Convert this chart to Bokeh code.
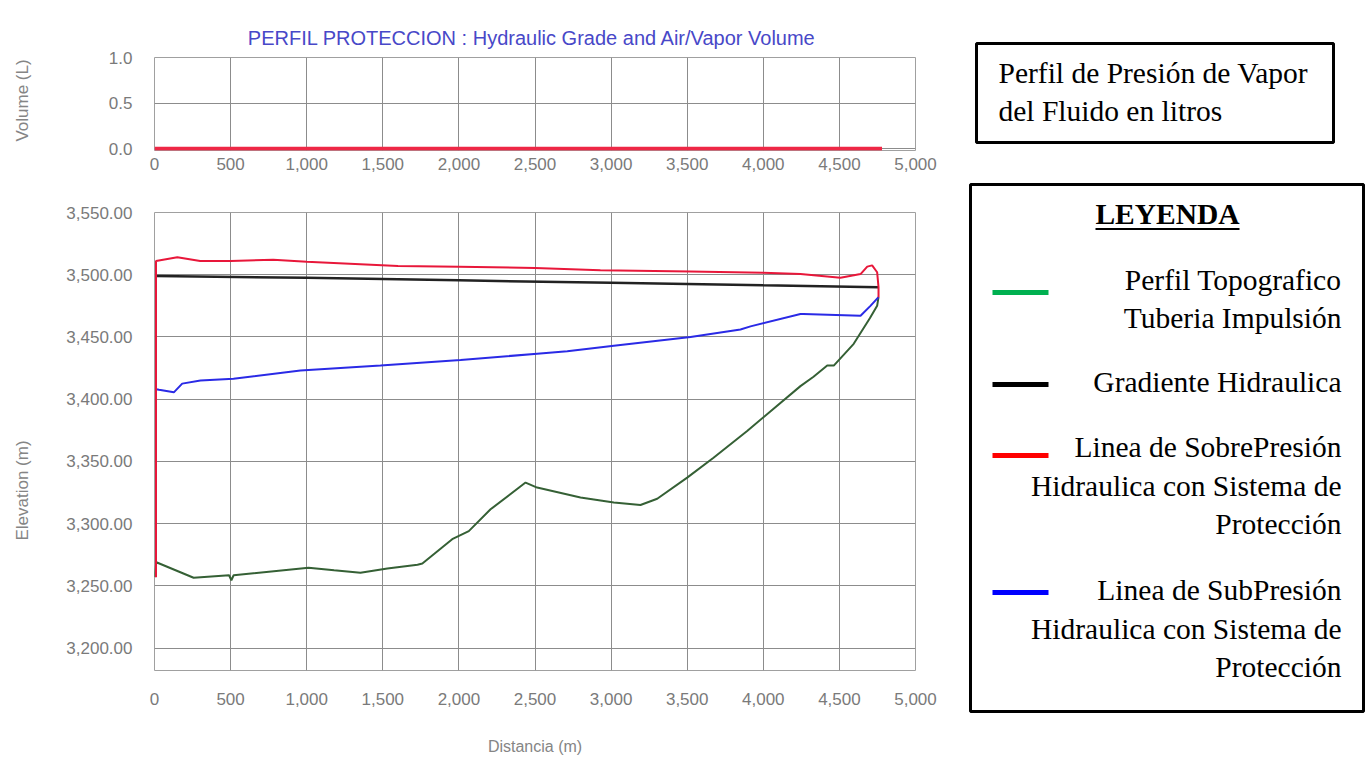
import math
from bokeh.plotting import figure
from bokeh.models import Range1d, SingleIntervalTicker, NumeralTickFormatter
from bokeh.layouts import row, column
from bokeh.embed import file_html
from bokeh.resources import INLINE
from bokeh.core.properties import value

# ---------------- data ----------------
# Air/vapor volume (L) along the line
vol_x = [0, 4780]
vol_y = [0.0, 0.0]

# Perfil topografico (pipe profile)
topo_x = [0, 12, 257, 490, 505, 520, 1012, 1180, 1353, 1530, 1728, 1760, 1956, 2065, 2208,
          2438, 2514, 2799, 3018, 3193, 3303, 3500, 3673, 3894, 4244, 4330, 4420, 4463,
          4594, 4700, 4748, 4757]
topo_y = [3257, 3269, 3256.5, 3258.5, 3254.5, 3258.5, 3264.5, 3262.5, 3260.5, 3264, 3267,
          3268, 3287.5, 3294, 3311.5, 3333, 3329, 3321, 3317, 3315, 3320, 3337, 3353,
          3374.5, 3410.5, 3418, 3427, 3427, 3444.5, 3465, 3475, 3482]

# Gradiente hidraulica
hgl_x = [10, 1000, 2000, 3000, 4000, 4757]
hgl_y = [3499, 3497.5, 3495.5, 3493.5, 3491.5, 3490]

# Envolvente maxima (sobrepresion)
max_x = [10, 10, 150, 300, 500, 780, 1000, 1600, 2000, 2500, 2930, 3520, 4000, 4244, 4507,
         4639, 4683, 4715, 4748, 4757, 4757]
max_y = [3257, 3511, 3514, 3511, 3511, 3512, 3510.5, 3507, 3506.5, 3505.5, 3503.5, 3502.5,
         3501.5, 3500.5, 3497.5, 3500.5, 3506.5, 3507.5, 3502, 3490, 3482]

# Envolvente minima (subpresion)
min_x = [10, 30, 127, 182, 302, 519, 959, 1485, 2011, 2514, 2712, 3018, 3522, 3850, 3916,
         4244, 4264, 4639, 4704, 4757]
min_y = [3408, 3407.5, 3405.5, 3412.5, 3415, 3416.5, 3423, 3427, 3431.5, 3436.5, 3438.5,
         3443, 3450, 3456, 3458.5, 3468.5, 3468.5, 3467, 3475, 3482]

# Texts
title_text = "PERFIL PROTECCION  : Hydraulic Grade and Air/Vapor Volume"
y_axis_titles = ["Volume (L)", "Elevation (m)"]
dist_axis_title = "Distancia (m)"
box1_lines = ["Perfil de Presión de Vapor", "del Fluido en litros"]
legend_title = "LEYENDA"
legend_colors = ["#00b050", "#000000", "#ff0000", "#0000ff"]
legend_lines = [
    ["Perfil Topografico", "Tuberia Impulsión"],
    ["Gradiente Hidraulica"],
    ["Linea de SobrePresión", "Hidraulica con Sistema de", "Protección"],
    ["Linea de SubPresión", "Hidraulica con Sistema de", "Protección"],
]

# ---------------- styling ----------------
SANS = "Liberation Sans"
SERIF = "Liberation Serif"
GRID = "#8c8c8c"
TICK = "#7a7a7a"
AXT = "#858585"
LEFT_W = 40


def style_axes(p):
    for ax in p.axis:
        ax.axis_line_color = None
        ax.major_tick_line_color = None
        ax.minor_tick_line_color = None
        ax.major_tick_out = 0
        ax.major_tick_in = 0
        ax.major_label_text_font = SANS
        ax.major_label_text_font_size = "17px"
        ax.major_label_text_color = TICK
        ax.axis_label_text_font = SANS
        ax.axis_label_text_font_size = "16px"
        ax.axis_label_text_font_style = "normal"
        ax.axis_label_text_color = AXT
    for g in p.grid:
        g.grid_line_color = GRID
        g.grid_line_width = 1
    p.outline_line_color = "#a0a0a0"
    p.background_fill_color = "white"
    p.border_fill_color = "white"


# ---------------- left strip with the vertical axis titles (page pixels) ----------------
lf = figure(width=LEFT_W, height=757, x_range=Range1d(0, LEFT_W), y_range=Range1d(0, 757),
            output_backend="svg", toolbar_location=None, x_axis_type=None, y_axis_type=None,
            min_border_left=0, min_border_right=0, min_border_top=0, min_border_bottom=0)
lf.grid.visible = False
lf.outline_line_color = None
lf.border_fill_color = "white"
lf.background_fill_color = "white"
lf.text(x=[22, 22], y=[757 - 100, 757 - 490], text=y_axis_titles, angle=math.pi / 2,
        text_font=value(SANS), text_font_size="17px", text_align="center",
        text_baseline="middle", text_color=AXT)

# ---------------- top figure (volume) ----------------
top = figure(width=958 - LEFT_W, height=180, x_range=Range1d(0, 5000),
             y_range=Range1d(-0.02, 1.0), output_backend="svg", toolbar_location=None,
             min_border_left=154 - LEFT_W, min_border_right=43, min_border_top=57,
             min_border_bottom=30, title=title_text)
top.title.text_font = SANS
top.title.text_font_size = "20px"
top.title.text_font_style = "normal"
top.title.text_color = "#4848c8"
top.title.align = "center"
top.title.standoff = 18
top.xaxis.ticker = SingleIntervalTicker(interval=500, num_minor_ticks=0)
top.yaxis.ticker = SingleIntervalTicker(interval=0.5, num_minor_ticks=0)
top.xaxis.formatter = NumeralTickFormatter(format="0,0")
top.yaxis.formatter = NumeralTickFormatter(format="0.0")
style_axes(top)
top.xaxis.major_label_standoff = 7
top.yaxis.major_label_standoff = 22
top.line(vol_x, vol_y, line_color="#ee2846", line_width=4)

# ---------------- main figure (elevation) ----------------
main = figure(width=958 - LEFT_W, height=577, x_range=Range1d(0, 5000),
              y_range=Range1d(3182, 3550), output_backend="svg", toolbar_location=None,
              min_border_left=154 - LEFT_W, min_border_right=43, min_border_top=32,
              min_border_bottom=87)
main.xaxis.ticker = SingleIntervalTicker(interval=500, num_minor_ticks=0)
main.yaxis.ticker = SingleIntervalTicker(interval=50, num_minor_ticks=0)
main.xaxis.formatter = NumeralTickFormatter(format="0,0")
main.yaxis.formatter = NumeralTickFormatter(format="0,0.00")
style_axes(main)
main.xaxis.major_label_standoff = 22
main.yaxis.major_label_standoff = 22
main.xaxis.axis_label = dist_axis_title
main.xaxis.axis_label_standoff = 30

main.line(topo_x, topo_y, line_color="#356035", line_width=2)
main.line(hgl_x, hgl_y, line_color="#222222", line_width=2.5)
main.line(min_x, min_y, line_color="#2a2ae6", line_width=2)
main.line(max_x, max_y, line_color="#e8173a", line_width=2)

# ---------------- legend panel (coordinates = page pixels) ----------------
lg = figure(width=412, height=757, x_range=Range1d(958, 1370), y_range=Range1d(757, 0),
            output_backend="svg", toolbar_location=None, x_axis_type=None, y_axis_type=None,
            min_border_left=0, min_border_right=0, min_border_top=0, min_border_bottom=0)
lg.grid.visible = False
lg.outline_line_color = None
lg.background_fill_color = "white"
lg.border_fill_color = "white"

# boxes
lg.quad(left=[976, 970], right=[1333, 1363], top=[43, 184], bottom=[142, 711],
        fill_color=None, line_color="black", line_width=3)

BASE_FIX = -11  # text baseline correction

# box 1 text
lg.text(x=[998, 998], y=[83 + BASE_FIX, 121 + BASE_FIX], text=box1_lines,
        text_font=value(SERIF), text_font_size="29.5px", text_align="left",
        text_baseline="alphabetic", text_color="black")

# legend title
lg.text(x=[1167], y=[224 + BASE_FIX], text=[legend_title], text_font=value(SERIF),
        text_font_size="29.5px", text_font_style="bold", text_align="center",
        text_baseline="alphabetic", text_color="black")
lg.segment(x0=[1095], x1=[1239], y0=[228.5], y1=[228.5], line_color="black", line_width=2)

# legend entries
sample_y = [292, 384, 455, 592]
first_baseline = [290, 392, 457.5, 600.5]
line_step = 38.5
lg.segment(x0=[992] * 4, x1=[1048] * 4, y0=sample_y, y1=sample_y,
           line_color=legend_colors, line_width=5)
tx, ty, tt = [], [], []
for lines, b in zip(legend_lines, first_baseline):
    for i, s in enumerate(lines):
        tx.append(1341)
        ty.append(b + i * line_step + BASE_FIX)
        tt.append(s)
lg.text(x=tx, y=ty, text=tt, text_font=value(SERIF), text_font_size="29.5px",
        text_align="right", text_baseline="alphabetic", text_color="black")

layout = row(lf, column(top, main, spacing=0), lg, spacing=0)

open("out.html", "w").write(file_html(layout, INLINE))
